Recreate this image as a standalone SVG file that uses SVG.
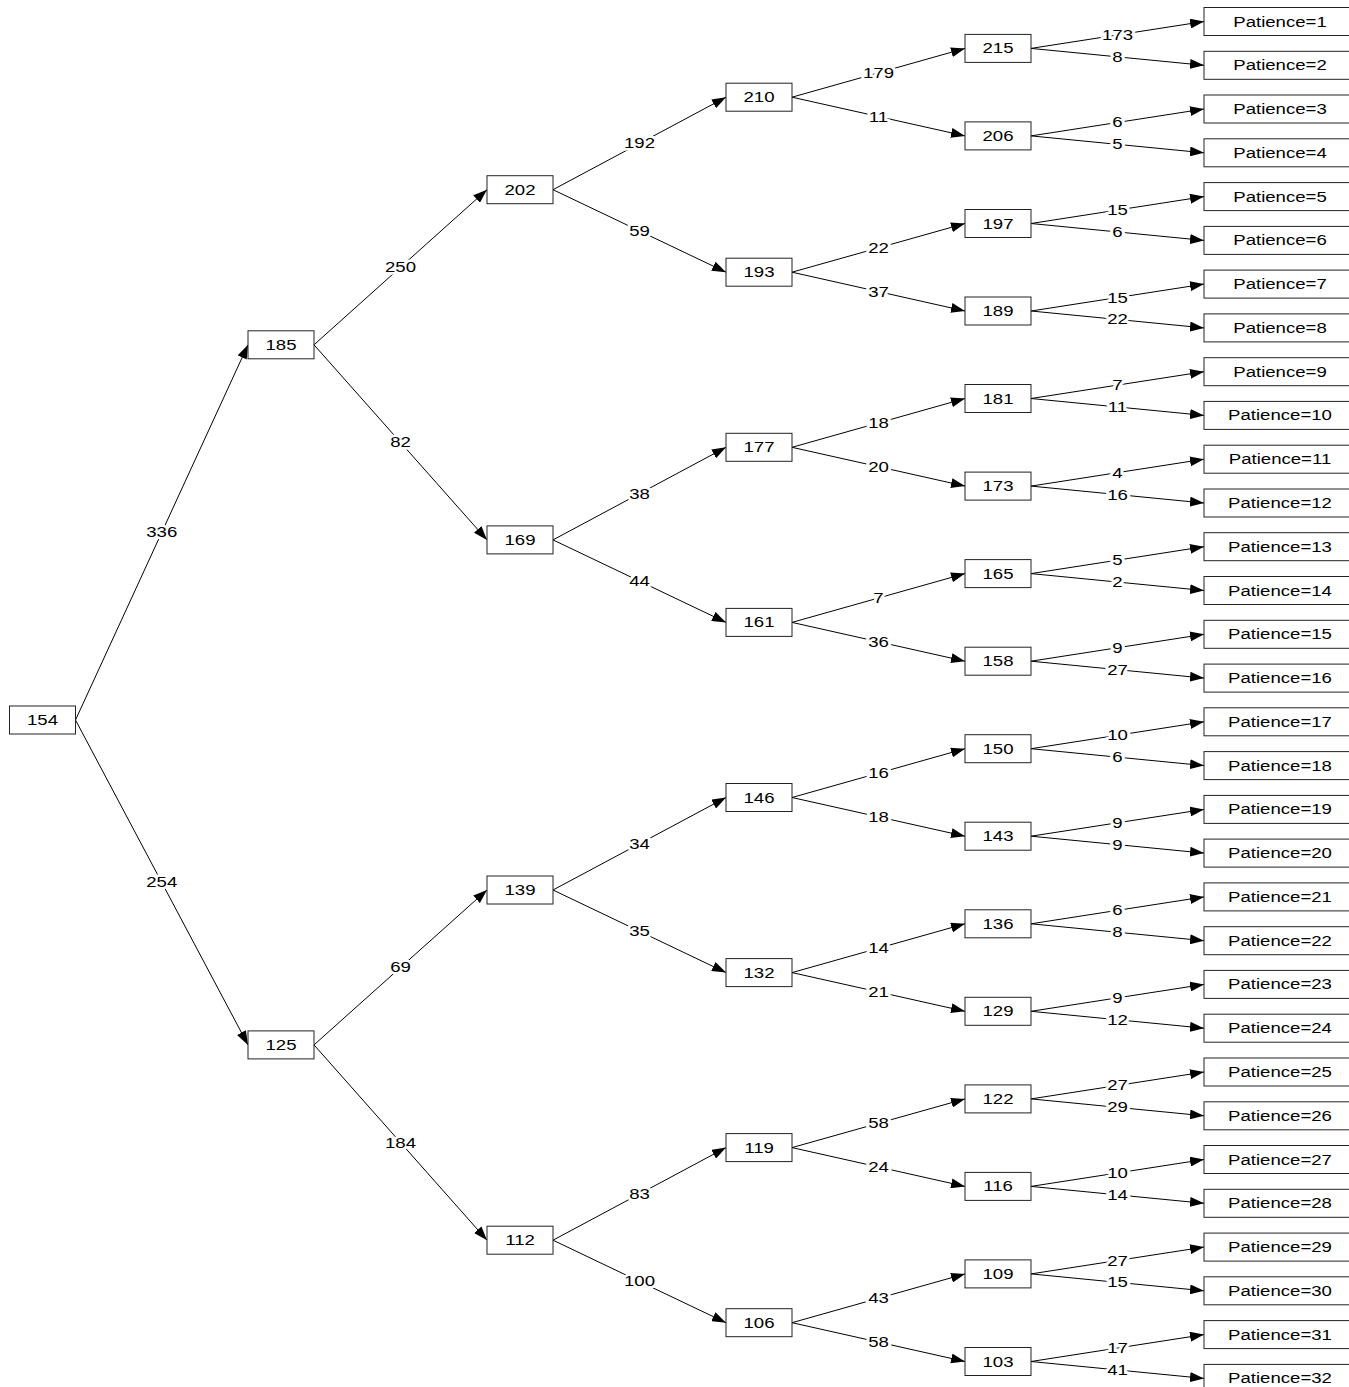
<svg xmlns="http://www.w3.org/2000/svg" width="1349" height="1387" viewBox="0 0 1349 1387">
<style>
.bg{fill:#fff}
.box{fill:#fff;stroke:#222;stroke-width:1}
.e{stroke:#000;stroke-width:1;fill:none;marker-end:url(#ah)}
text{font-family:"Liberation Sans",Arial,sans-serif;font-size:15px;fill:#000;text-anchor:middle}
.lbl{paint-order:stroke;stroke:#fff;stroke-width:5px;stroke-linejoin:round}
</style>
<defs>
<marker id="ah" markerUnits="userSpaceOnUse" markerWidth="14" markerHeight="10" refX="14" refY="5" orient="auto">
<path d="M0,0 L14,5 L0,10 z" fill="#000"/>
</marker>
</defs>
<rect class="bg" x="0" y="0" width="1349" height="1387"/>
<g id="connectors">
<line class="e" x1="75.5" y1="720" x2="248" y2="344.8"/>
<line class="e" x1="75.5" y1="720" x2="248" y2="1044.9"/>
<line class="e" x1="314" y1="344.8" x2="487" y2="189.7"/>
<line class="e" x1="314" y1="344.8" x2="487" y2="539.9"/>
<line class="e" x1="314" y1="1044.9" x2="487" y2="890"/>
<line class="e" x1="314" y1="1044.9" x2="487" y2="1240.2"/>
<line class="e" x1="553" y1="189.7" x2="726" y2="97.2"/>
<line class="e" x1="553" y1="189.7" x2="726" y2="272.2"/>
<line class="e" x1="553" y1="539.9" x2="726" y2="447.3"/>
<line class="e" x1="553" y1="539.9" x2="726" y2="622.4"/>
<line class="e" x1="553" y1="890" x2="726" y2="797.5"/>
<line class="e" x1="553" y1="890" x2="726" y2="972.6"/>
<line class="e" x1="553" y1="1240.2" x2="726" y2="1147.6"/>
<line class="e" x1="553" y1="1240.2" x2="726" y2="1322.7"/>
<line class="e" x1="792" y1="97.2" x2="965" y2="48.4"/>
<line class="e" x1="792" y1="97.2" x2="965" y2="135.9"/>
<line class="e" x1="792" y1="272.2" x2="965" y2="223.5"/>
<line class="e" x1="792" y1="272.2" x2="965" y2="311"/>
<line class="e" x1="792" y1="447.3" x2="965" y2="398.5"/>
<line class="e" x1="792" y1="447.3" x2="965" y2="486.1"/>
<line class="e" x1="792" y1="622.4" x2="965" y2="573.6"/>
<line class="e" x1="792" y1="622.4" x2="965" y2="661.2"/>
<line class="e" x1="792" y1="797.5" x2="965" y2="748.7"/>
<line class="e" x1="792" y1="797.5" x2="965" y2="836.2"/>
<line class="e" x1="792" y1="972.6" x2="965" y2="923.8"/>
<line class="e" x1="792" y1="972.6" x2="965" y2="1011.3"/>
<line class="e" x1="792" y1="1147.6" x2="965" y2="1098.9"/>
<line class="e" x1="792" y1="1147.6" x2="965" y2="1186.4"/>
<line class="e" x1="792" y1="1322.7" x2="965" y2="1273.9"/>
<line class="e" x1="792" y1="1322.7" x2="965" y2="1361.5"/>
<line class="e" x1="1031" y1="48.4" x2="1204" y2="21.5"/>
<line class="e" x1="1031" y1="48.4" x2="1204" y2="65.3"/>
<line class="e" x1="1031" y1="135.9" x2="1204" y2="109"/>
<line class="e" x1="1031" y1="135.9" x2="1204" y2="152.8"/>
<line class="e" x1="1031" y1="223.5" x2="1204" y2="196.6"/>
<line class="e" x1="1031" y1="223.5" x2="1204" y2="240.4"/>
<line class="e" x1="1031" y1="311" x2="1204" y2="284.1"/>
<line class="e" x1="1031" y1="311" x2="1204" y2="327.9"/>
<line class="e" x1="1031" y1="398.5" x2="1204" y2="371.7"/>
<line class="e" x1="1031" y1="398.5" x2="1204" y2="415.4"/>
<line class="e" x1="1031" y1="486.1" x2="1204" y2="459.2"/>
<line class="e" x1="1031" y1="486.1" x2="1204" y2="503"/>
<line class="e" x1="1031" y1="573.6" x2="1204" y2="546.7"/>
<line class="e" x1="1031" y1="573.6" x2="1204" y2="590.5"/>
<line class="e" x1="1031" y1="661.2" x2="1204" y2="634.3"/>
<line class="e" x1="1031" y1="661.2" x2="1204" y2="678.1"/>
<line class="e" x1="1031" y1="748.7" x2="1204" y2="721.8"/>
<line class="e" x1="1031" y1="748.7" x2="1204" y2="765.6"/>
<line class="e" x1="1031" y1="836.2" x2="1204" y2="809.4"/>
<line class="e" x1="1031" y1="836.2" x2="1204" y2="853.1"/>
<line class="e" x1="1031" y1="923.8" x2="1204" y2="896.9"/>
<line class="e" x1="1031" y1="923.8" x2="1204" y2="940.7"/>
<line class="e" x1="1031" y1="1011.3" x2="1204" y2="984.4"/>
<line class="e" x1="1031" y1="1011.3" x2="1204" y2="1028.2"/>
<line class="e" x1="1031" y1="1098.9" x2="1204" y2="1072"/>
<line class="e" x1="1031" y1="1098.9" x2="1204" y2="1115.8"/>
<line class="e" x1="1031" y1="1186.4" x2="1204" y2="1159.5"/>
<line class="e" x1="1031" y1="1186.4" x2="1204" y2="1203.3"/>
<line class="e" x1="1031" y1="1273.9" x2="1204" y2="1247.1"/>
<line class="e" x1="1031" y1="1273.9" x2="1204" y2="1290.8"/>
<line class="e" x1="1031" y1="1361.5" x2="1204" y2="1334.6"/>
<line class="e" x1="1031" y1="1361.5" x2="1204" y2="1378.4"/>
<g id="edge-labels">
<text class="lbl" transform="translate(161.75,532.4) scale(1.24,1)" y="5">336</text>
<text class="lbl" transform="translate(161.75,882.45) scale(1.24,1)" y="5">254</text>
<text class="lbl" transform="translate(400.5,267.25) scale(1.24,1)" y="5">250</text>
<text class="lbl" transform="translate(400.5,442.35) scale(1.24,1)" y="5">82</text>
<text class="lbl" transform="translate(400.5,967.45) scale(1.24,1)" y="5">69</text>
<text class="lbl" transform="translate(400.5,1142.55) scale(1.24,1)" y="5">184</text>
<text class="lbl" transform="translate(639.5,143.45) scale(1.24,1)" y="5">192</text>
<text class="lbl" transform="translate(639.5,230.95) scale(1.24,1)" y="5">59</text>
<text class="lbl" transform="translate(639.5,493.6) scale(1.24,1)" y="5">38</text>
<text class="lbl" transform="translate(639.5,581.15) scale(1.24,1)" y="5">44</text>
<text class="lbl" transform="translate(639.5,843.75) scale(1.24,1)" y="5">34</text>
<text class="lbl" transform="translate(639.5,931.3) scale(1.24,1)" y="5">35</text>
<text class="lbl" transform="translate(639.5,1193.9) scale(1.24,1)" y="5">83</text>
<text class="lbl" transform="translate(639.5,1281.45) scale(1.24,1)" y="5">100</text>
<text class="lbl" transform="translate(878.5,72.8) scale(1.24,1)" y="5">179</text>
<text class="lbl" transform="translate(878.5,116.55) scale(1.24,1)" y="5">11</text>
<text class="lbl" transform="translate(878.5,247.85) scale(1.24,1)" y="5">22</text>
<text class="lbl" transform="translate(878.5,291.6) scale(1.24,1)" y="5">37</text>
<text class="lbl" transform="translate(878.5,422.9) scale(1.24,1)" y="5">18</text>
<text class="lbl" transform="translate(878.5,466.7) scale(1.24,1)" y="5">20</text>
<text class="lbl" transform="translate(878.5,598) scale(1.24,1)" y="5">7</text>
<text class="lbl" transform="translate(878.5,641.8) scale(1.24,1)" y="5">36</text>
<text class="lbl" transform="translate(878.5,773.1) scale(1.24,1)" y="5">16</text>
<text class="lbl" transform="translate(878.5,816.85) scale(1.24,1)" y="5">18</text>
<text class="lbl" transform="translate(878.5,948.2) scale(1.24,1)" y="5">14</text>
<text class="lbl" transform="translate(878.5,991.95) scale(1.24,1)" y="5">21</text>
<text class="lbl" transform="translate(878.5,1123.25) scale(1.24,1)" y="5">58</text>
<text class="lbl" transform="translate(878.5,1167) scale(1.24,1)" y="5">24</text>
<text class="lbl" transform="translate(878.5,1298.3) scale(1.24,1)" y="5">43</text>
<text class="lbl" transform="translate(878.5,1342.1) scale(1.24,1)" y="5">58</text>
<text class="lbl" transform="translate(1117.5,34.95) scale(1.24,1)" y="5">173</text>
<text class="lbl" transform="translate(1117.5,56.85) scale(1.24,1)" y="5">8</text>
<text class="lbl" transform="translate(1117.5,122.45) scale(1.24,1)" y="5">6</text>
<text class="lbl" transform="translate(1117.5,144.35) scale(1.24,1)" y="5">5</text>
<text class="lbl" transform="translate(1117.5,210.05) scale(1.24,1)" y="5">15</text>
<text class="lbl" transform="translate(1117.5,231.95) scale(1.24,1)" y="5">6</text>
<text class="lbl" transform="translate(1117.5,297.55) scale(1.24,1)" y="5">15</text>
<text class="lbl" transform="translate(1117.5,319.45) scale(1.24,1)" y="5">22</text>
<text class="lbl" transform="translate(1117.5,385.1) scale(1.24,1)" y="5">7</text>
<text class="lbl" transform="translate(1117.5,406.95) scale(1.24,1)" y="5">11</text>
<text class="lbl" transform="translate(1117.5,472.65) scale(1.24,1)" y="5">4</text>
<text class="lbl" transform="translate(1117.5,494.55) scale(1.24,1)" y="5">16</text>
<text class="lbl" transform="translate(1117.5,560.15) scale(1.24,1)" y="5">5</text>
<text class="lbl" transform="translate(1117.5,582.05) scale(1.24,1)" y="5">2</text>
<text class="lbl" transform="translate(1117.5,647.75) scale(1.24,1)" y="5">9</text>
<text class="lbl" transform="translate(1117.5,669.65) scale(1.24,1)" y="5">27</text>
<text class="lbl" transform="translate(1117.5,735.25) scale(1.24,1)" y="5">10</text>
<text class="lbl" transform="translate(1117.5,757.15) scale(1.24,1)" y="5">6</text>
<text class="lbl" transform="translate(1117.5,822.8) scale(1.24,1)" y="5">9</text>
<text class="lbl" transform="translate(1117.5,844.65) scale(1.24,1)" y="5">9</text>
<text class="lbl" transform="translate(1117.5,910.35) scale(1.24,1)" y="5">6</text>
<text class="lbl" transform="translate(1117.5,932.25) scale(1.24,1)" y="5">8</text>
<text class="lbl" transform="translate(1117.5,997.85) scale(1.24,1)" y="5">9</text>
<text class="lbl" transform="translate(1117.5,1019.75) scale(1.24,1)" y="5">12</text>
<text class="lbl" transform="translate(1117.5,1085.45) scale(1.24,1)" y="5">27</text>
<text class="lbl" transform="translate(1117.5,1107.35) scale(1.24,1)" y="5">29</text>
<text class="lbl" transform="translate(1117.5,1172.95) scale(1.24,1)" y="5">10</text>
<text class="lbl" transform="translate(1117.5,1194.85) scale(1.24,1)" y="5">14</text>
<text class="lbl" transform="translate(1117.5,1260.5) scale(1.24,1)" y="5">27</text>
<text class="lbl" transform="translate(1117.5,1282.35) scale(1.24,1)" y="5">15</text>
<text class="lbl" transform="translate(1117.5,1348.05) scale(1.24,1)" y="5">17</text>
<text class="lbl" transform="translate(1117.5,1369.95) scale(1.24,1)" y="5">41</text>
</g>
</g>
<g id="n154"><rect class="box" x="9.5" y="706" width="66" height="28"/><text transform="translate(42.5,720) scale(1.24,1)" y="5">154</text></g>
<g id="n185"><rect class="box" x="248" y="330.8" width="66" height="28"/><text transform="translate(281,344.8) scale(1.24,1)" y="5">185</text></g>
<g id="n125"><rect class="box" x="248" y="1030.9" width="66" height="28"/><text transform="translate(281,1044.9) scale(1.24,1)" y="5">125</text></g>
<g id="n202"><rect class="box" x="487" y="175.7" width="66" height="28"/><text transform="translate(520,189.7) scale(1.24,1)" y="5">202</text></g>
<g id="n169"><rect class="box" x="487" y="525.9" width="66" height="28"/><text transform="translate(520,539.9) scale(1.24,1)" y="5">169</text></g>
<g id="n139"><rect class="box" x="487" y="876" width="66" height="28"/><text transform="translate(520,890) scale(1.24,1)" y="5">139</text></g>
<g id="n112"><rect class="box" x="487" y="1226.2" width="66" height="28"/><text transform="translate(520,1240.2) scale(1.24,1)" y="5">112</text></g>
<g id="n210"><rect class="box" x="726" y="83.2" width="66" height="28"/><text transform="translate(759,97.2) scale(1.24,1)" y="5">210</text></g>
<g id="n193"><rect class="box" x="726" y="258.2" width="66" height="28"/><text transform="translate(759,272.2) scale(1.24,1)" y="5">193</text></g>
<g id="n177"><rect class="box" x="726" y="433.3" width="66" height="28"/><text transform="translate(759,447.3) scale(1.24,1)" y="5">177</text></g>
<g id="n161"><rect class="box" x="726" y="608.4" width="66" height="28"/><text transform="translate(759,622.4) scale(1.24,1)" y="5">161</text></g>
<g id="n146"><rect class="box" x="726" y="783.5" width="66" height="28"/><text transform="translate(759,797.5) scale(1.24,1)" y="5">146</text></g>
<g id="n132"><rect class="box" x="726" y="958.6" width="66" height="28"/><text transform="translate(759,972.6) scale(1.24,1)" y="5">132</text></g>
<g id="n119"><rect class="box" x="726" y="1133.6" width="66" height="28"/><text transform="translate(759,1147.6) scale(1.24,1)" y="5">119</text></g>
<g id="n106"><rect class="box" x="726" y="1308.7" width="66" height="28"/><text transform="translate(759,1322.7) scale(1.24,1)" y="5">106</text></g>
<g id="n215"><rect class="box" x="965" y="34.4" width="66" height="28"/><text transform="translate(998,48.4) scale(1.24,1)" y="5">215</text></g>
<g id="n206"><rect class="box" x="965" y="121.9" width="66" height="28"/><text transform="translate(998,135.9) scale(1.24,1)" y="5">206</text></g>
<g id="n197"><rect class="box" x="965" y="209.5" width="66" height="28"/><text transform="translate(998,223.5) scale(1.24,1)" y="5">197</text></g>
<g id="n189"><rect class="box" x="965" y="297" width="66" height="28"/><text transform="translate(998,311) scale(1.24,1)" y="5">189</text></g>
<g id="n181"><rect class="box" x="965" y="384.5" width="66" height="28"/><text transform="translate(998,398.5) scale(1.24,1)" y="5">181</text></g>
<g id="n173"><rect class="box" x="965" y="472.1" width="66" height="28"/><text transform="translate(998,486.1) scale(1.24,1)" y="5">173</text></g>
<g id="n165"><rect class="box" x="965" y="559.6" width="66" height="28"/><text transform="translate(998,573.6) scale(1.24,1)" y="5">165</text></g>
<g id="n158"><rect class="box" x="965" y="647.2" width="66" height="28"/><text transform="translate(998,661.2) scale(1.24,1)" y="5">158</text></g>
<g id="n150"><rect class="box" x="965" y="734.7" width="66" height="28"/><text transform="translate(998,748.7) scale(1.24,1)" y="5">150</text></g>
<g id="n143"><rect class="box" x="965" y="822.2" width="66" height="28"/><text transform="translate(998,836.2) scale(1.24,1)" y="5">143</text></g>
<g id="n136"><rect class="box" x="965" y="909.8" width="66" height="28"/><text transform="translate(998,923.8) scale(1.24,1)" y="5">136</text></g>
<g id="n129"><rect class="box" x="965" y="997.3" width="66" height="28"/><text transform="translate(998,1011.3) scale(1.24,1)" y="5">129</text></g>
<g id="n122"><rect class="box" x="965" y="1084.9" width="66" height="28"/><text transform="translate(998,1098.9) scale(1.24,1)" y="5">122</text></g>
<g id="n116"><rect class="box" x="965" y="1172.4" width="66" height="28"/><text transform="translate(998,1186.4) scale(1.24,1)" y="5">116</text></g>
<g id="n109"><rect class="box" x="965" y="1259.9" width="66" height="28"/><text transform="translate(998,1273.9) scale(1.24,1)" y="5">109</text></g>
<g id="n103"><rect class="box" x="965" y="1347.5" width="66" height="28"/><text transform="translate(998,1361.5) scale(1.24,1)" y="5">103</text></g>
<g id="p1"><rect class="box" x="1204" y="7.5" width="155" height="28"/><text transform="translate(1280,21.5) scale(1.24,1)" y="5">Patience=1</text></g>
<g id="p2"><rect class="box" x="1204" y="51.3" width="155" height="28"/><text transform="translate(1280,65.3) scale(1.24,1)" y="5">Patience=2</text></g>
<g id="p3"><rect class="box" x="1204" y="95" width="155" height="28"/><text transform="translate(1280,109) scale(1.24,1)" y="5">Patience=3</text></g>
<g id="p4"><rect class="box" x="1204" y="138.8" width="155" height="28"/><text transform="translate(1280,152.8) scale(1.24,1)" y="5">Patience=4</text></g>
<g id="p5"><rect class="box" x="1204" y="182.6" width="155" height="28"/><text transform="translate(1280,196.6) scale(1.24,1)" y="5">Patience=5</text></g>
<g id="p6"><rect class="box" x="1204" y="226.4" width="155" height="28"/><text transform="translate(1280,240.4) scale(1.24,1)" y="5">Patience=6</text></g>
<g id="p7"><rect class="box" x="1204" y="270.1" width="155" height="28"/><text transform="translate(1280,284.1) scale(1.24,1)" y="5">Patience=7</text></g>
<g id="p8"><rect class="box" x="1204" y="313.9" width="155" height="28"/><text transform="translate(1280,327.9) scale(1.24,1)" y="5">Patience=8</text></g>
<g id="p9"><rect class="box" x="1204" y="357.7" width="155" height="28"/><text transform="translate(1280,371.7) scale(1.24,1)" y="5">Patience=9</text></g>
<g id="p10"><rect class="box" x="1204" y="401.4" width="155" height="28"/><text transform="translate(1280,415.4) scale(1.24,1)" y="5">Patience=10</text></g>
<g id="p11"><rect class="box" x="1204" y="445.2" width="155" height="28"/><text transform="translate(1280,459.2) scale(1.24,1)" y="5">Patience=11</text></g>
<g id="p12"><rect class="box" x="1204" y="489" width="155" height="28"/><text transform="translate(1280,503) scale(1.24,1)" y="5">Patience=12</text></g>
<g id="p13"><rect class="box" x="1204" y="532.7" width="155" height="28"/><text transform="translate(1280,546.7) scale(1.24,1)" y="5">Patience=13</text></g>
<g id="p14"><rect class="box" x="1204" y="576.5" width="155" height="28"/><text transform="translate(1280,590.5) scale(1.24,1)" y="5">Patience=14</text></g>
<g id="p15"><rect class="box" x="1204" y="620.3" width="155" height="28"/><text transform="translate(1280,634.3) scale(1.24,1)" y="5">Patience=15</text></g>
<g id="p16"><rect class="box" x="1204" y="664.1" width="155" height="28"/><text transform="translate(1280,678.1) scale(1.24,1)" y="5">Patience=16</text></g>
<g id="p17"><rect class="box" x="1204" y="707.8" width="155" height="28"/><text transform="translate(1280,721.8) scale(1.24,1)" y="5">Patience=17</text></g>
<g id="p18"><rect class="box" x="1204" y="751.6" width="155" height="28"/><text transform="translate(1280,765.6) scale(1.24,1)" y="5">Patience=18</text></g>
<g id="p19"><rect class="box" x="1204" y="795.4" width="155" height="28"/><text transform="translate(1280,809.4) scale(1.24,1)" y="5">Patience=19</text></g>
<g id="p20"><rect class="box" x="1204" y="839.1" width="155" height="28"/><text transform="translate(1280,853.1) scale(1.24,1)" y="5">Patience=20</text></g>
<g id="p21"><rect class="box" x="1204" y="882.9" width="155" height="28"/><text transform="translate(1280,896.9) scale(1.24,1)" y="5">Patience=21</text></g>
<g id="p22"><rect class="box" x="1204" y="926.7" width="155" height="28"/><text transform="translate(1280,940.7) scale(1.24,1)" y="5">Patience=22</text></g>
<g id="p23"><rect class="box" x="1204" y="970.4" width="155" height="28"/><text transform="translate(1280,984.4) scale(1.24,1)" y="5">Patience=23</text></g>
<g id="p24"><rect class="box" x="1204" y="1014.2" width="155" height="28"/><text transform="translate(1280,1028.2) scale(1.24,1)" y="5">Patience=24</text></g>
<g id="p25"><rect class="box" x="1204" y="1058" width="155" height="28"/><text transform="translate(1280,1072) scale(1.24,1)" y="5">Patience=25</text></g>
<g id="p26"><rect class="box" x="1204" y="1101.8" width="155" height="28"/><text transform="translate(1280,1115.8) scale(1.24,1)" y="5">Patience=26</text></g>
<g id="p27"><rect class="box" x="1204" y="1145.5" width="155" height="28"/><text transform="translate(1280,1159.5) scale(1.24,1)" y="5">Patience=27</text></g>
<g id="p28"><rect class="box" x="1204" y="1189.3" width="155" height="28"/><text transform="translate(1280,1203.3) scale(1.24,1)" y="5">Patience=28</text></g>
<g id="p29"><rect class="box" x="1204" y="1233.1" width="155" height="28"/><text transform="translate(1280,1247.1) scale(1.24,1)" y="5">Patience=29</text></g>
<g id="p30"><rect class="box" x="1204" y="1276.8" width="155" height="28"/><text transform="translate(1280,1290.8) scale(1.24,1)" y="5">Patience=30</text></g>
<g id="p31"><rect class="box" x="1204" y="1320.6" width="155" height="28"/><text transform="translate(1280,1334.6) scale(1.24,1)" y="5">Patience=31</text></g>
<g id="p32"><rect class="box" x="1204" y="1364.4" width="155" height="28"/><text transform="translate(1280,1378.4) scale(1.24,1)" y="5">Patience=32</text></g>
</svg>
